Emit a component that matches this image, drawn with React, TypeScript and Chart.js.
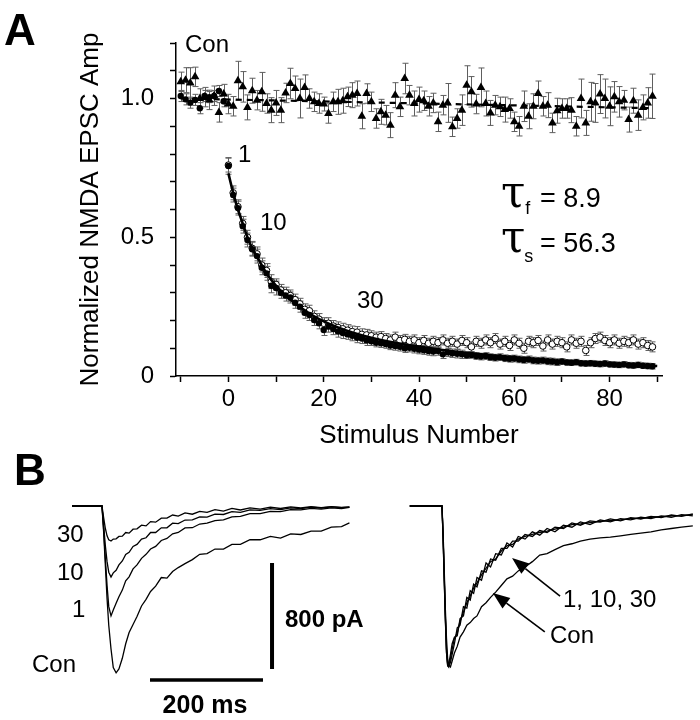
import React, { useEffect, useRef } from "react";
import { Chart, registerables } from "chart.js";

Chart.register(...registerables);

const FONT = "'Liberation Sans', Arimo, Arial, Helvetica, sans-serif";

// ---------------- Panel A data ----------------
const CON_FIRST_STIM = -10;
const conValues = [
  1.06, 1.066, 1.056, 1.078, 1.0, 1.005, 0.995, 1.01, 0.95, 1.016,
  0.98, 0.972, 1.064, 1.042, 0.968, 1.028, 0.994, 1.024, 0.982, 0.958,
  0.984, 0.958, 1.02, 1.054, 1.036, 1.0, 1.04, 1.0, 0.988, 0.982,
  0.98, 0.946, 0.988, 0.988, 0.992, 1.006, 1.012, 1.018, 0.936, 1.018,
  0.988, 0.928, 0.952, 0.94, 0.904, 1.012, 0.97, 1.072, 1.012, 0.982,
  0.996, 0.992, 0.972, 0.984, 0.916, 0.976, 0.984, 0.898, 0.928, 0.958,
  1.048, 1.024, 0.98, 1.04, 0.982, 0.948, 0.976, 0.97, 0.96, 0.964,
  0.916, 0.9, 0.972, 0.936, 0.972, 1.018, 0.972, 0.976, 0.912, 0.956,
  0.964, 0.964, 0.958, 0.9, 1.0, 0.912, 0.988, 0.984, 1.016, 1.0,
  0.972, 1.006, 0.988, 0.994, 0.924, 0.992, 0.94, 0.968, 0.984, 1.008,
];
const conErrors = [
  0.035, 0.045, 0.055, 0.035, 0.035, 0.035, 0.035, 0.035, 0.035, 0.035,
  0.035, 0.035, 0.07, 0.055, 0.045, 0.045, 0.035, 0.07, 0.035, 0.045,
  0.045, 0.045, 0.035, 0.055, 0.045, 0.07, 0.045, 0.035, 0.035, 0.035,
  0.025, 0.035, 0.035, 0.045, 0.045, 0.035, 0.045, 0.045, 0.045, 0.035,
  0.035, 0.035, 0.045, 0.035, 0.045, 0.045, 0.035, 0.055, 0.035, 0.045,
  0.045, 0.035, 0.035, 0.035, 0.035, 0.035, 0.07, 0.035, 0.035, 0.055,
  0.07, 0.055, 0.035, 0.07, 0.045, 0.045, 0.035, 0.035, 0.045, 0.035,
  0.035, 0.035, 0.055, 0.045, 0.045, 0.045, 0.035, 0.045, 0.035, 0.045,
  0.035, 0.035, 0.045, 0.035, 0.07, 0.045, 0.07, 0.07, 0.07, 0.07,
  0.07, 0.055, 0.055, 0.035, 0.045, 0.045, 0.055, 0.045, 0.055, 0.08,
];
const conTrendX = [-10, 89];
const conTrendY = [1.0, 0.965];

const BASE_FIRST_STIM = -10;
const baselineValues = [1.009, 0.997, 0.985, 0.995, 0.965, 1.009, 1.005, 1.009, 1.027, 0.99];
const baselineErrors = [0.02, 0.02, 0.02, 0.02, 0.02, 0.02, 0.02, 0.02, 0.02, 0.02];

const DECAY_FIRST_STIM = 0;
const decayValues = [
  0.757, 0.652, 0.605, 0.54, 0.49, 0.457, 0.432, 0.39, 0.37, 0.325,
  0.317, 0.3, 0.29, 0.283, 0.264, 0.25, 0.228, 0.22, 0.202, 0.19,
  0.166, 0.178, 0.169, 0.16, 0.155, 0.15, 0.145, 0.138, 0.135, 0.128,
  0.125, 0.12, 0.118, 0.115, 0.11, 0.108, 0.105, 0.1, 0.102, 0.098,
  0.095, 0.093, 0.09, 0.088, 0.09, 0.078, 0.085, 0.082, 0.08, 0.078,
  0.075, 0.076, 0.072, 0.07, 0.072, 0.068, 0.066, 0.068, 0.064, 0.062,
  0.063, 0.06, 0.058, 0.06, 0.056, 0.055, 0.056, 0.053, 0.052, 0.05,
  0.052, 0.049, 0.048, 0.05, 0.046, 0.045, 0.046, 0.044, 0.043, 0.045,
  0.042, 0.041, 0.04, 0.042, 0.039, 0.038, 0.04, 0.037, 0.036, 0.035,
];
const decayErrors = [
  0.03, 0.025, 0.025, 0.025, 0.025, 0.025, 0.025, 0.025, 0.025, 0.025,
  0.025, 0.02, 0.02, 0.02, 0.02, 0.02, 0.02, 0.02, 0.02, 0.02,
  0.02, 0.02, 0.02, 0.02, 0.02, 0.018, 0.018, 0.018, 0.018, 0.018,
  0.015, 0.015, 0.015, 0.015, 0.015, 0.015, 0.015, 0.015, 0.015, 0.015,
  0.015, 0.015, 0.015, 0.015, 0.015, 0.015, 0.015, 0.015, 0.015, 0.015,
  0.012, 0.012, 0.012, 0.012, 0.012, 0.012, 0.012, 0.012, 0.012, 0.012,
  0.012, 0.012, 0.012, 0.012, 0.012, 0.012, 0.012, 0.012, 0.012, 0.012,
  0.01, 0.01, 0.01, 0.01, 0.01, 0.01, 0.01, 0.01, 0.01, 0.01,
  0.01, 0.01, 0.01, 0.01, 0.01, 0.01, 0.01, 0.01, 0.01, 0.01,
];

const OPEN_FIRST_STIM = 0;
const openValues = [
  0.76, 0.66, 0.61, 0.55, 0.5, 0.46, 0.44, 0.4, 0.38, 0.34,
  0.33, 0.31, 0.3, 0.29, 0.275, 0.26, 0.24, 0.235, 0.215, 0.205,
  0.19, 0.19, 0.18, 0.175, 0.17, 0.165, 0.16, 0.158, 0.15, 0.148,
  0.145, 0.14, 0.142, 0.135, 0.13, 0.14, 0.128, 0.132, 0.125, 0.13,
  0.12, 0.128, 0.118, 0.125, 0.12, 0.13, 0.118, 0.125, 0.115, 0.128,
  0.12, 0.105, 0.125, 0.118, 0.13, 0.12, 0.135, 0.115, 0.125, 0.11,
  0.13, 0.118, 0.1, 0.125, 0.12, 0.128, 0.108, 0.13, 0.115, 0.125,
  0.12, 0.105, 0.13, 0.118, 0.125, 0.092, 0.12, 0.135, 0.14, 0.128,
  0.12, 0.13, 0.118, 0.125, 0.12, 0.13, 0.115, 0.12, 0.11, 0.105,
];
const openErrors = [
  0.025, 0.025, 0.025, 0.025, 0.025, 0.025, 0.025, 0.025, 0.025, 0.025,
  0.02, 0.02, 0.02, 0.02, 0.02, 0.02, 0.02, 0.02, 0.02, 0.02,
  0.02, 0.02, 0.02, 0.02, 0.02, 0.02, 0.02, 0.02, 0.02, 0.02,
  0.018, 0.018, 0.018, 0.018, 0.018, 0.018, 0.018, 0.018, 0.018, 0.018,
  0.018, 0.018, 0.018, 0.018, 0.018, 0.018, 0.018, 0.018, 0.018, 0.018,
  0.018, 0.018, 0.018, 0.018, 0.018, 0.018, 0.018, 0.018, 0.018, 0.018,
  0.018, 0.018, 0.018, 0.018, 0.018, 0.018, 0.018, 0.018, 0.018, 0.018,
  0.018, 0.018, 0.018, 0.018, 0.018, 0.018, 0.018, 0.018, 0.018, 0.018,
  0.018, 0.018, 0.018, 0.018, 0.018, 0.018, 0.018, 0.018, 0.018, 0.018,
];

const fitX = [0, 1, 2, 3, 4, 5, 6, 8, 10, 12, 14, 16, 18, 20, 23, 26, 30, 35, 40, 45, 50, 55, 60, 65, 70, 75, 80, 85, 90];
const fitY = [0.73, 0.66, 0.6, 0.55, 0.5, 0.46, 0.43, 0.37, 0.325, 0.29, 0.262, 0.237, 0.215, 0.197, 0.175, 0.157, 0.138, 0.12, 0.106, 0.094, 0.084, 0.075, 0.067, 0.06, 0.054, 0.049, 0.044, 0.04, 0.036];

const xTickLabels = [0, 20, 40, 60, 80];
const yTickLabels = [0, 0.5, 1.0];

// ---------------- Panel B data (ms, pA) ----------------
const leftTime = [-53, -40, -25, -10, 0, 3, 6, 9, 12, 16, 20, 25, 30, 36, 42, 48, 55, 62, 70, 78, 86, 95, 105, 115, 125, 135, 147, 160, 173, 186, 200, 215, 230, 245, 262, 280, 298, 316, 334, 352, 370, 388, 406, 424, 438];
const leftTrace30 = [0, 0, 0, 0, 0, -90, -170, -225, -255, -264, -250, -248, -230, -228, -200, -205, -175, -172, -145, -150, -118, -122, -92, -92, -68, -76, -52, -62, -40, -48, -28, -38, -18, -30, -14, -24, -8, -19, -7, -15, -5, -13, -4, -11, -6];
const leftTrace10 = [0, 0, 0, 0, 0, -150, -300, -420, -500, -536, -505, -485, -445, -415, -365, -350, -305, -290, -250, -240, -200, -200, -165, -165, -130, -133, -106, -104, -82, -84, -62, -64, -43, -48, -30, -33, -20, -27, -14, -20, -9, -15, -7, -13, -9];
const leftTrace1 = [0, 0, 0, 0, 0, -180, -400, -600, -760, -830, -785, -735, -685, -635, -565, -535, -475, -445, -395, -365, -325, -305, -260, -245, -210, -200, -165, -164, -136, -130, -110, -104, -82, -78, -57, -58, -40, -43, -28, -30, -18, -24, -14, -19, -11];
const leftTraceCon = [0, 0, 0, 0, 0, -200, -450, -700, -900, -1080, -1220, -1260, -1230, -1150, -1040, -955, -895, -835, -755, -705, -645, -605, -540, -545, -495, -465, -435, -405, -365, -360, -325, -325, -290, -290, -255, -255, -230, -242, -210, -215, -190, -190, -160, -155, -128];

const rightTime = [-57, -45, -30, -15, 0, 2, 4, 6, 8, 10, 12, 15, 18, 22, 27, 32, 38, 44, 50, 56, 62, 70, 78, 86, 95, 105, 115, 125, 135, 147, 160, 173, 186, 200, 215, 230, 245, 262, 280, 298, 316, 334, 352, 370, 388, 406, 424, 444];
const rightTrace1 = [0, 0, 0, 0, 0, -250, -550, -850, -1100, -1200, -1215, -1150, -1080, -1000, -960, -870, -800, -730, -680, -620, -580, -520, -470, -420, -400, -340, -300, -290, -250, -230, -215, -200, -190, -175, -160, -140, -135, -125, -115, -110, -105, -95, -92, -85, -80, -75, -72, -65];
const rightTrace10 = [0, 0, 0, 0, 0, -230, -530, -830, -1080, -1190, -1210, -1180, -1120, -1040, -920, -900, -760, -770, -640, -660, -540, -560, -430, -460, -360, -370, -280, -310, -230, -250, -195, -220, -170, -195, -145, -160, -120, -140, -105, -120, -95, -105, -85, -95, -75, -85, -65, -75];
const rightTrace30 = [0, 0, 0, 0, 0, -240, -560, -860, -1110, -1205, -1195, -1120, -1040, -990, -980, -850, -830, -690, -710, -590, -610, -490, -500, -400, -410, -320, -320, -265, -265, -215, -230, -185, -200, -160, -170, -128, -145, -112, -122, -98, -112, -88, -98, -78, -88, -68, -78, -60];
const rightTraceCon = [0, 0, 0, 0, 0, -200, -480, -780, -1000, -1150, -1200, -1215, -1170, -1110, -1060, -990, -950, -900, -880, -850, -830, -760, -730, -690, -650, -600, -550, -530, -490, -460, -420, -370, -360, -330, -300, -285, -265, -250, -240, -235, -225, -215, -205, -195, -180, -170, -160, -150];

const timeBarX = [85, 285]; // 200 ms
const timeBarY = [-1314, -1314];
const currentBarX = [301, 301];
const currentBarY = [-430, -1230]; // 800 pA

// arrows in right-panel data coordinates: [tailT, tailPA, tipT, tipPA]
const arrowFast = [209, -680, 124, -393];
const arrowCon = [182, -951, 90, -657];

// ---------------- helpers ----------------
const seq = (first: number, n: number) => Array.from({ length: n }, (_, i) => first + i);
const pts = (xs: number[], ys: number[]) => xs.map((x, i) => ({ x, y: ys[i] }));

const errorBarPlugin = {
  id: "errorBars",
  beforeDatasetsDraw(chart: any) {
    const { ctx, scales } = chart;
    const x = scales.x, y = scales.y;
    ctx.save();
    chart.data.datasets.forEach((ds: any) => {
      if (!ds.errors) return;
      ctx.strokeStyle = "#5e5e5e";
      ctx.lineWidth = 1;
      ds.data.forEach((p: any, i: number) => {
        const e = ds.errors[i];
        const px = Math.round(x.getPixelForValue(p.x)) + 0.5;
        const top = y.getPixelForValue(p.y + e);
        const bot = y.getPixelForValue(p.y - e);
        ctx.beginPath();
        ctx.moveTo(px, top); ctx.lineTo(px, bot);
        ctx.moveTo(px - 3, top); ctx.lineTo(px + 3, top);
        ctx.moveTo(px - 3, bot); ctx.lineTo(px + 3, bot);
        ctx.stroke();
      });
    });
    ctx.restore();
  },
};

const textA = {
  id: "textA",
  afterDraw(chart: any) {
    const ctx = chart.ctx;
    ctx.save();
    ctx.fillStyle = "#000";
    ctx.textBaseline = "alphabetic";
    ctx.textAlign = "left";
    ctx.font = `bold 44px ${FONT}`;
    ctx.fillText("A", 4, 45);
    ctx.font = `24px ${FONT}`;
    ctx.fillText("Con", 185, 52);
    ctx.fillText("1", 238, 162);
    ctx.fillText("10", 260, 230);
    ctx.fillText("30", 357, 308);
    // tau lines
    const tauFont = `44px 'DejaVu Serif', serif`;
    ctx.font = tauFont;
    const tw = ctx.measureText("τ").width;
    ctx.fillText("τ", 501, 207);
    ctx.fillText("τ", 501, 252);
    ctx.font = `18px ${FONT}`;
    ctx.fillText("f", 501 + tw, 214);
    ctx.fillText("s", 500 + tw, 262);
    ctx.font = `27px ${FONT}`;
    ctx.fillText("= 8.9", 540, 207);
    ctx.fillText("= 56.3", 540, 252);
    ctx.restore();
  },
};

const textB = {
  id: "textB",
  afterDraw(chart: any) {
    const { ctx, scales } = chart;
    ctx.save();
    ctx.fillStyle = "#000";
    ctx.strokeStyle = "#000";
    ctx.textBaseline = "alphabetic";
    ctx.textAlign = "left";
    ctx.font = `bold 44px ${FONT}`;
    ctx.fillText("B", 14, 45);
    ctx.font = `24px ${FONT}`;
    ctx.fillText("30", 57, 102);
    ctx.fillText("10", 57, 140);
    ctx.fillText("1", 72, 177);
    ctx.fillText("Con", 32, 232);
    ctx.fillText("1, 10, 30", 563, 167);
    ctx.fillText("Con", 550, 203);
    ctx.font = `bold 24px ${FONT}`;
    ctx.fillText("800 pA", 285, 187);
    ctx.textAlign = "center";
    ctx.font = `bold 25px ${FONT}`;
    ctx.fillText("200 ms", 205, 273);
    // arrows
    const xr = scales.xR, y = scales.y;
    [arrowFast, arrowCon].forEach((a) => {
      const x0 = xr.getPixelForValue(a[0]), y0 = y.getPixelForValue(a[1]);
      const x1 = xr.getPixelForValue(a[2]), y1 = y.getPixelForValue(a[3]);
      const ang = Math.atan2(y1 - y0, x1 - x0);
      const L = 17, W = 6.5;
      const bx = x1 - L * Math.cos(ang), by = y1 - L * Math.sin(ang);
      ctx.lineWidth = 1.6;
      ctx.beginPath();
      ctx.moveTo(x0, y0); ctx.lineTo(bx, by);
      ctx.stroke();
      ctx.beginPath();
      ctx.moveTo(x1, y1);
      ctx.lineTo(bx + W * Math.sin(ang), by - W * Math.cos(ang));
      ctx.lineTo(bx - W * Math.sin(ang), by + W * Math.cos(ang));
      ctx.closePath();
      ctx.fill();
    });
    ctx.restore();
  },
};

function configA(): any {
  return {
    type: "scatter",
    data: {
      datasets: [
        {
          label: "fit",
          data: pts(fitX, fitY),
          showLine: true,
          pointRadius: 0,
          borderColor: "#000",
          borderWidth: 2.6,
          cubicInterpolationMode: "monotone",
          order: 0,
        },
        {
          label: "decay",
          data: [...pts(seq(BASE_FIRST_STIM, baselineValues.length), baselineValues), ...pts(seq(DECAY_FIRST_STIM, decayValues.length), decayValues)],
          errors: [...baselineErrors, ...decayErrors],
          pointStyle: "circle",
          pointRadius: 3.2,
          backgroundColor: "#000",
          borderColor: "#000",
          borderWidth: 0,
          order: 1,
        },
        {
          label: "open",
          data: pts(seq(OPEN_FIRST_STIM, openValues.length), openValues),
          errors: openErrors,
          pointStyle: "circle",
          pointRadius: 3.3,
          backgroundColor: "#fff",
          borderColor: "#000",
          borderWidth: 1,
          order: 2,
        },
        {
          label: "con",
          data: pts(seq(CON_FIRST_STIM, conValues.length), conValues),
          errors: conErrors,
          pointStyle: "triangle",
          pointRadius: 5,
          backgroundColor: "#000",
          borderColor: "#000",
          borderWidth: 0,
          order: 3,
        },
        {
          label: "conTrend",
          data: pts(conTrendX, conTrendY),
          showLine: true,
          pointRadius: 0,
          borderColor: "#000",
          borderWidth: 2.2,
          borderDash: [6, 5],
          order: 4,
        },
      ],
    },
    options: {
      responsive: false,
      animation: false,
      events: [],
      layout: { padding: { left: 0, top: 43, right: 38, bottom: 0 } },
      plugins: { legend: { display: false }, tooltip: { enabled: false } },
      scales: {
        x: {
          type: "linear",
          min: -11,
          max: 91,
          position: "bottom",
          afterFit: (s: any) => { s.height = 84; },
          border: { display: true, color: "#000", width: 1.5 },
          grid: { display: true, drawOnChartArea: false, drawTicks: true, tickLength: 6, tickColor: "#000", tickWidth: 1.5 },
          ticks: {
            stepSize: 10,
            includeBounds: false,
            autoSkip: false,
            maxRotation: 0,
            padding: 3,
            color: "#000",
            font: { family: FONT, size: 24 },
            callback: (v: number) => (xTickLabels.includes(Math.round(v)) && Math.abs(v - Math.round(v)) < 1e-6 ? String(Math.round(v)) : ""),
          },
          title: { display: true, text: "Stimulus Number", color: "#000", font: { family: FONT, size: 26 }, padding: { top: 0, bottom: 9 } },
        },
        y: {
          type: "linear",
          min: 0,
          max: 1.2,
          afterFit: (s: any) => { s.width = 176; },
          border: { display: true, color: "#000", width: 1.5 },
          grid: { display: true, drawOnChartArea: false, drawTicks: true, tickLength: 6, tickColor: "#000", tickWidth: 1.5 },
          ticks: {
            stepSize: 0.1,
            autoSkip: false,
            padding: 16,
            color: "#000",
            font: { family: FONT, size: 24 },
            callback: (v: number) => {
              const hit = yTickLabels.find((t) => Math.abs(t - v) < 1e-6);
              if (hit === undefined) return "";
              return hit === 0 ? "0" : hit.toFixed(1);
            },
          },
          title: { display: true, text: "Normalized NMDA EPSC Amp", color: "#000", font: { family: FONT, size: 26 }, padding: { top: 75, bottom: 0 } },
        },
      },
    },
    plugins: [errorBarPlugin, textA],
  };
}

function configB(): any {
  const line = (xs: number[], ys: number[], axis: string, width = 1.3) => ({
    data: pts(xs, ys),
    xAxisID: axis,
    yAxisID: "y",
    showLine: true,
    pointRadius: 0,
    borderColor: "#000",
    borderWidth: width,
    fill: false,
  });
  return {
    type: "scatter",
    data: {
      datasets: [
        line(leftTime, leftTraceCon, "xL"),
        line(leftTime, leftTrace1, "xL"),
        line(leftTime, leftTrace10, "xL"),
        line(leftTime, leftTrace30, "xL"),
        line(rightTime, rightTraceCon, "xR"),
        line(rightTime, rightTrace1, "xR"),
        line(rightTime, rightTrace10, "xR"),
        line(rightTime, rightTrace30, "xR"),
        line(timeBarX, timeBarY, "xL", 3.5),
        line(currentBarX, currentBarY, "xL", 4),
      ],
    },
    options: {
      responsive: false,
      animation: false,
      events: [],
      layout: { padding: 0 },
      plugins: { legend: { display: false }, tooltip: { enabled: false } },
      scales: {
        xL: { type: "linear", display: false, min: -180.5, max: 1058.5 },
        xR: { type: "linear", display: false, min: -782.3, max: 456.7 },
        y: { type: "linear", display: false, min: -1615.7, max: 498.3 },
      },
    },
    plugins: [textB],
  };
}

export default function App() {
  const aRef = useRef<HTMLCanvasElement>(null);
  const bRef = useRef<HTMLCanvasElement>(null);
  useEffect(() => {
    const a = new Chart(aRef.current as HTMLCanvasElement, configA());
    const b = new Chart(bRef.current as HTMLCanvasElement, configB());
    return () => {
      a.destroy();
      b.destroy();
    };
  }, []);
  return (
    <div style={{ position: "fixed", left: 0, top: 0, width: 700, height: 720, background: "#fff" }}>
      <canvas ref={aRef} width={700} height={460} style={{ position: "absolute", left: 0, top: 0 }} />
      <canvas ref={bRef} width={700} height={280} style={{ position: "absolute", left: 0, top: 440 }} />
    </div>
  );
}
